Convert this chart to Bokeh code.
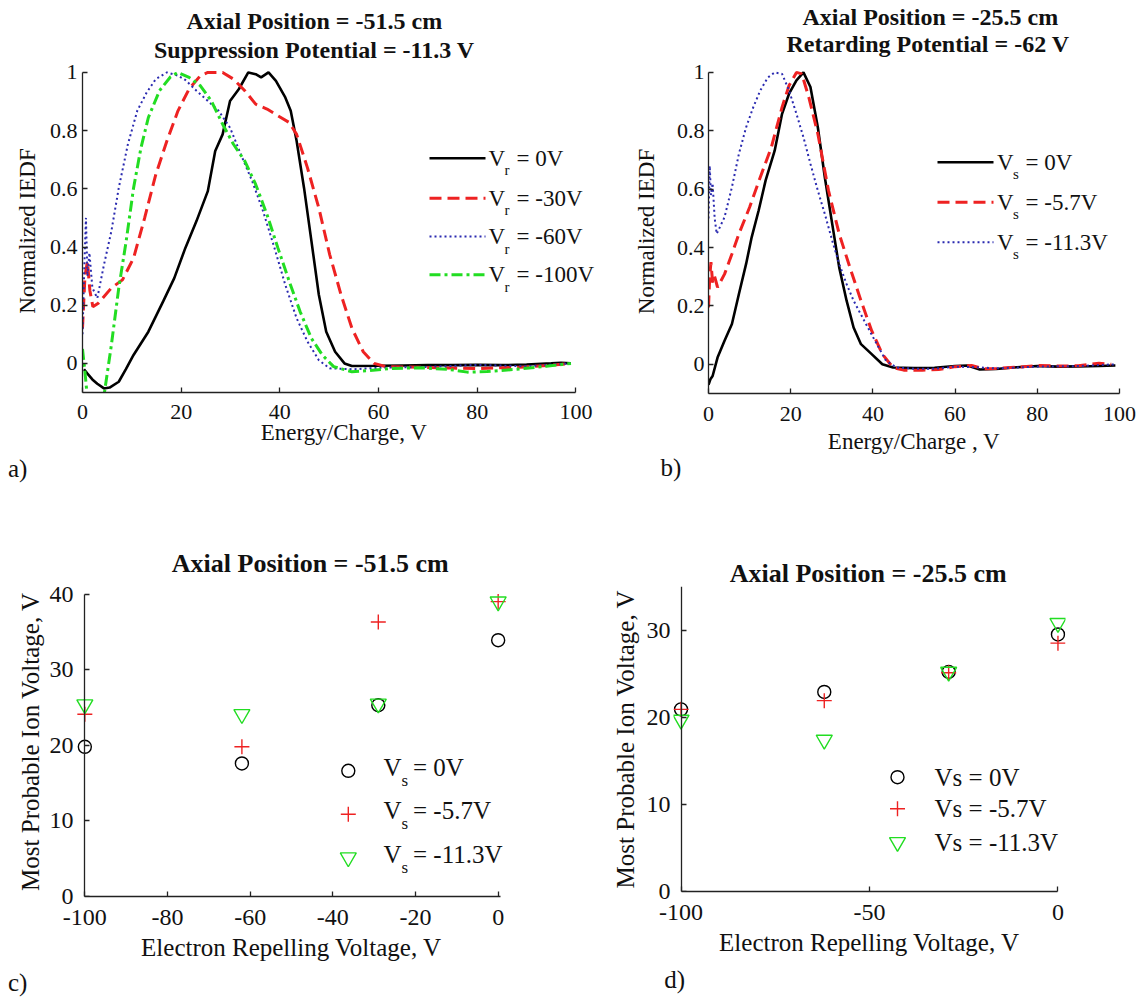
import math
from bokeh.plotting import figure
from bokeh.layouts import row, column
from bokeh.models import Label, FixedTicker, NumeralTickFormatter, Range1d, Title, LinearAxis
from bokeh.embed import file_html
from bokeh.resources import INLINE

SERIF = "Liberation Serif"

# ---------------- DATA ----------------
# Panel a: Axial -51.5 cm, suppression -11.3 V, curves for repelling voltage Vr
a_labels = ["= 0V", "= -30V", "= -60V", "= -100V"]
a_vr0_x = [0.3, 1, 2, 3, 4.35, 5.5, 7.35, 8.8, 10.35, 13.35, 16.35, 18.6, 20.85, 23.1, 25.4, 26.9,
           28.4, 29.9, 31.7, 33.6, 35.1, 36.2, 37.7, 39.2, 41.1, 42.2, 43.4, 44.9, 46.4, 47.9, 49.4,
           51.2, 53.1, 54.6, 60, 65, 70, 75, 80, 85, 90, 95, 97, 99]
a_vr0_y = [-0.02, -0.035, -0.055, -0.07, -0.086, -0.083, -0.063, -0.02, 0.029, 0.109, 0.213, 0.293,
           0.397, 0.489, 0.592, 0.73, 0.787, 0.902, 0.943, 1.0, 0.994, 0.983, 1.0, 0.971, 0.914, 0.868,
           0.764, 0.603, 0.42, 0.236, 0.109, 0.04, 0.0, -0.009, -0.008, -0.007, -0.006, -0.006, -0.005,
           -0.006, -0.004, 0.0, 0.002, 0.0]
a_vr30_x = [0, 0.5, 1.0, 1.5, 2.1, 3.2, 5.85, 8.1, 10.35, 12.6, 14.85, 17.1, 19.35, 21.6, 23.9, 25.4,
            28.4, 30.6, 32.9, 35.1, 37.4, 39.6, 41.9, 43.4, 45.6, 47.9, 50.1, 52.4, 54.6, 56.9, 59.1,
            61.4, 65, 70, 75, 80, 85, 90, 95, 99]
a_vr30_y = [0.12, 0.3, 0.35, 0.25, 0.195, 0.207, 0.259, 0.287, 0.362, 0.5, 0.649, 0.764, 0.868, 0.943,
            0.989, 1.0, 1.0, 0.977, 0.937, 0.891, 0.874, 0.851, 0.828, 0.787, 0.672, 0.534, 0.374,
            0.236, 0.121, 0.04, 0.0, -0.011, -0.012, -0.014, -0.016, -0.018, -0.015, -0.012, -0.006, 0.0]
a_vr60_x = [0, 0.4, 0.7, 1.0, 1.4, 2.0, 3.0, 4.35, 5.85, 7.35, 9.2, 11.1, 13.0, 14.85, 17.1, 19.35,
            20.85, 23.1, 25.4, 27.6, 29.9, 32.1, 34.4, 36.6, 38.9, 41.1, 43.4, 45.6, 47.9, 50.1, 55,
            60, 70, 80, 90, 99]
a_vr60_y = [0.1, 0.35, 0.5, 0.3, 0.38, 0.26, 0.224, 0.339, 0.454, 0.603, 0.753, 0.868, 0.931, 0.977,
            1.0, 0.989, 0.974, 0.937, 0.902, 0.868, 0.81, 0.718, 0.626, 0.523, 0.397, 0.27, 0.155,
            0.075, 0.011, -0.017, -0.02, -0.015, -0.012, -0.005, -0.01, 0.0]
a_vr100_x = [0, 0.5, 1.0, 1.5, 2.5, 3.5, 4.45, 5.85, 7.35, 8.85, 10.35, 11.85, 13.35, 15.6, 17.85,
             19.35, 21.6, 23.9, 26.1, 28.4, 30.6, 32.9, 35.1, 37.4, 39.6, 41.9, 44.1, 46.4, 48.6,
             50.9, 54.6, 58, 62, 68, 74, 78, 82, 88, 94, 99]
a_vr100_y = [0.05, -0.03, -0.12, -0.15, -0.15, -0.13, -0.1, 0.063, 0.259, 0.42, 0.603, 0.741, 0.845,
             0.937, 0.985, 1.0, 0.983, 0.954, 0.902, 0.822, 0.753, 0.695, 0.615, 0.511, 0.397, 0.282,
             0.178, 0.086, 0.029, -0.011, -0.029, -0.025, -0.018, -0.015, -0.02, -0.03, -0.028,
             -0.02, -0.01, 0.0]

# Panel b: Axial -25.5 cm, retarding -62 V, curves for suppression voltage Vs
b_labels = ["= 0V", "= -5.7V", "= -11.3V"]
b_vs0_x = [0, 0.5, 1, 2.2, 3.9, 5.7, 7.4, 9.15, 10.5, 12.2, 13.9, 16.1, 17.9, 19.6, 21.4, 23.1, 24.8,
           26.6, 28.3, 30.1, 31.8, 33.6, 35.3, 37.1, 39.7, 42.3, 44.9, 50, 55, 60, 63, 66, 70, 75, 80,
           85, 90, 95, 99]
b_vs0_y = [-0.07, -0.05, -0.04, 0.023, 0.081, 0.138, 0.241, 0.344, 0.435, 0.527, 0.63, 0.732, 0.858,
           0.927, 0.973, 1.0, 0.95, 0.812, 0.641, 0.481, 0.332, 0.218, 0.126, 0.069, 0.035, 0.0,
           -0.011, -0.013, -0.012, -0.006, -0.004, -0.018, -0.016, -0.01, -0.006, -0.008, -0.007,
           -0.006, -0.004]
b_vs57_x = [0, 0.3, 0.6, 1.0, 1.5, 2.2, 3.9, 5.7, 7.4, 10.0, 12.6, 15.3, 17.9, 19.6, 21.4, 22.7, 24.4,
            26.6, 29.2, 31.8, 34.4, 37.1, 39.7, 42.3, 44.9, 47.5, 52, 56, 60, 64, 67, 70, 75, 80, 85,
            90, 95, 98]
b_vs57_y = [0.195, 0.3, 0.35, 0.28, 0.3, 0.264, 0.309, 0.378, 0.447, 0.538, 0.641, 0.744, 0.881,
            0.955, 1.0, 0.995, 0.915, 0.79, 0.595, 0.447, 0.332, 0.218, 0.115, 0.035, -0.011, -0.02,
            -0.02, -0.018, -0.008, -0.004, -0.015, -0.014, -0.01, -0.004, -0.006, -0.005, 0.004, 0.0]
b_vs113_x = [0, 0.3, 0.6, 1.0, 1.5, 2.0, 3.9, 5.7, 7.4, 9.15, 10.9, 12.6, 14.4, 16.1, 17.9, 19.6,
             21.4, 23.1, 24.8, 26.6, 28.3, 30.1, 31.8, 33.6, 35.3, 37.9, 40.5, 43.2, 45.8, 50, 55,
             60, 65, 70, 80, 90, 99]
b_vs113_y = [0.5, 0.68, 0.58, 0.62, 0.5, 0.447, 0.504, 0.607, 0.721, 0.812, 0.881, 0.938, 0.982, 1.0,
             0.995, 0.938, 0.858, 0.778, 0.687, 0.595, 0.515, 0.424, 0.344, 0.275, 0.218, 0.149,
             0.081, 0.012, -0.011, -0.015, -0.015, -0.008, -0.01, -0.014, -0.008, -0.006, 0.0]

# Panels c, d: most probable ion voltage vs electron repelling voltage
rep_voltage = [-100, -62, -29, 0]
c_vs0 = [19.8, 17.6, 25.3, 33.9]
c_vs57 = [24.1, 19.8, 36.3, 39.0]
c_vs113 = [25.4, 24.1, 25.5, 39.0]
d_vs0 = [20.9, 22.9, 25.2, 29.5]
d_vs57 = [20.9, 21.9, 25.1, 28.5]
d_vs113 = [19.7, 17.4, 25.2, 30.8]
cd_labels = ["= 0V", "= -5.7V", "= -11.3V"]
d_labels = ["Vs = 0V", "Vs = -5.7V", "Vs = -11.3V"]

a_ticks_x = [0, 20, 40, 60, 80, 100]
a_ticks_y = [0, 0.2, 0.4, 0.6, 0.8, 1]
c_ticks_x = [-100, -80, -60, -40, -20, 0]
c_ticks_y = [0, 10, 20, 30, 40]
d_ticks_x = [-100, -50, 0]
d_ticks_y = [0, 10, 20, 30]

BLACK = "#000000"
RED = "#ee2222"
BLUE = "#2a2ab0"
GREEN = "#22dd22"
AXC = "#222222"
TXT = "#111111"


def style_axis(ax, tick_size):
    ax.axis_line_color = AXC
    ax.axis_line_width = 1.3
    ax.major_tick_in = 5
    ax.major_tick_out = 0
    ax.major_tick_line_color = AXC
    ax.major_tick_line_width = 1.3
    ax.minor_tick_line_color = None
    ax.major_label_text_font = SERIF
    ax.major_label_text_color = TXT
    ax.major_label_text_font_size = tick_size
    ax.axis_label_text_font = SERIF
    ax.axis_label_text_font_style = "normal"
    ax.axis_label_text_color = TXT


class Panel:
    # ox, oy: page position of the figure; left/top: frame offset inside the figure
    def __init__(self, ox, oy, left, top, fw, fh, tw, th, xr, yr, tick_size):
        self.L = ox + left
        self.T = oy + top
        self.fw, self.fh = fw, fh
        self.B = self.T + fh
        self.xr, self.yr = xr, yr
        p = figure(frame_width=fw, frame_height=fh, x_range=Range1d(*xr), y_range=Range1d(*yr),
                   output_backend="svg", toolbar_location=None,
                   min_border_left=left, min_border_top=top,
                   min_border_right=tw - left - fw, min_border_bottom=th - top - fh)
        p.outline_line_color = None
        p.grid.visible = False
        p.background_fill_color = "white"
        p.border_fill_color = "white"
        style_axis(p.xaxis[0], tick_size)
        style_axis(p.yaxis[0], tick_size)
        self.p = p

    def dx(self, px):
        return self.xr[0] + (px - self.L) / self.fw * (self.xr[1] - self.xr[0])

    def dy(self, py):
        return self.yr[0] + (self.B - py) / self.fh * (self.yr[1] - self.yr[0])

    def text(self, x, y, txt, size, align="left"):
        self.p.add_layout(Label(x=x - self.L, y=self.B - y, x_units="screen", y_units="screen",
                                text=txt, text_font=SERIF, text_font_size=f"{size}px",
                                text_align=align, text_baseline="middle", text_color=TXT))

    def title(self, txt, left_x, size, standoff, bold=True, side="above", valign="bottom"):
        self.p.add_layout(Title(text=txt, align="left", offset=left_x - self.L, standoff=standoff,
                                text_font=SERIF, text_font_size=f"{size}px",
                                text_font_style="bold" if bold else "normal",
                                text_color=TXT, vertical_align=valign), side)


ROW1_H = 508
ROW2_H = 492
COL1_W = 608
COL2_W = 535

# ---------------- PANEL A ----------------
A = Panel(0, 0, 82, 68, 523, 323, COL1_W, ROW1_H, (0, 106), (-0.1, 1.01), "22px")
pa = A.p
pa.xaxis.ticker = FixedTicker(ticks=a_ticks_x)
pa.xaxis.bounds = (0, 100)
pa.yaxis.ticker = FixedTicker(ticks=a_ticks_y)
pa.yaxis.formatter = NumeralTickFormatter(format="0.[0]")
pa.yaxis.bounds = (-0.1, 1)
pa.xaxis.axis_label = "Energy/Charge, V"
pa.yaxis.axis_label = "Normalized IEDF"
pa.xaxis.axis_label_text_font_size = "23px"
pa.yaxis.axis_label_text_font_size = "23px"
pa.xaxis.major_label_standoff = 12
pa.yaxis.major_label_standoff = 5
pa.xaxis.axis_label_standoff = -2
pa.yaxis.axis_label_standoff = 7
a_styles = [(a_vr0_x, a_vr0_y, BLACK, 2.6, "solid"),
            (a_vr30_x, a_vr30_y, RED, 3.0, "12 6"),
            (a_vr60_x, a_vr60_y, BLUE, 2.0, "2 3"),
            (a_vr100_x, a_vr100_y, GREEN, 3.0, "11 4 3 4")]
for xs, ys, c, w, d in a_styles:
    pa.line(xs, ys, line_color=c, line_width=w, line_dash=d)
A.title("Suppression Potential = -11.3 V", 153.5, 24, 13)
A.title("Axial Position = -51.5 cm", 186, 24, -10)
A.title("a)", 7.4, 25, 12, bold=False, side="below", valign="middle")
a_rows = [156.7, 196.7, 235.0, 273.3]
for (xs, ys, c, w, d), ry, lab in zip(a_styles, a_rows, a_labels):
    pa.line([A.dx(429), A.dx(485)], [A.dy(ry), A.dy(ry)], line_color=c, line_width=w, line_dash=d)
    A.text(488, ry, "V", 23)
    A.text(504, ry + 12, "r", 15)
    A.text(516, ry, lab, 23)

# ---------------- PANEL B ----------------
Bp = Panel(COL1_W, 0, 100, 69, 411, 324, COL2_W, ROW1_H, (0, 100), (-0.1, 1.01), "22px")
pb = Bp.p
pb.xaxis.ticker = FixedTicker(ticks=a_ticks_x)
pb.yaxis.ticker = FixedTicker(ticks=a_ticks_y)
pb.yaxis.formatter = NumeralTickFormatter(format="0.[0]")
pb.yaxis.bounds = (-0.1, 1)
pb.xaxis.axis_label = "Energy/Charge , V"
pb.yaxis.axis_label = "Normalized IEDF"
pb.xaxis.axis_label_text_font_size = "23px"
pb.yaxis.axis_label_text_font_size = "23px"
pb.xaxis.major_label_standoff = 13
pb.yaxis.major_label_standoff = 4
pb.xaxis.axis_label_standoff = 5
pb.yaxis.axis_label_standoff = 15
b_styles = [(b_vs0_x, b_vs0_y, BLACK, 2.6, "solid"),
            (b_vs57_x, b_vs57_y, RED, 3.0, "12 6"),
            (b_vs113_x, b_vs113_y, BLUE, 2.0, "2 3")]
for xs, ys, c, w, d in b_styles:
    pb.line(xs, ys, line_color=c, line_width=w, line_dash=d)
Bp.title("Retarding Potential = -62 V", 786, 24, 26)
Bp.title("Axial Position = -25.5 cm", 802, 24, -28)
Bp.title("b)", 660, 25, -8, bold=False, side="below", valign="middle")
b_rows = [161.7, 201.7, 241.7]
for (xs, ys, c, w, d), ry, lab in zip(b_styles, b_rows, b_labels):
    pb.line([Bp.dx(937), Bp.dx(993)], [Bp.dy(ry), Bp.dy(ry)], line_color=c, line_width=w, line_dash=d)
    Bp.text(996.5, ry, "V", 23)
    Bp.text(1012.5, ry + 11.5, "s", 15)
    Bp.text(1025, ry, lab, 23)


def marker_series(pan, xs, ys_list):
    p = pan.p
    p.scatter(xs, ys_list[0], marker="circle", size=13, fill_color=None, line_color=BLACK, line_width=1.4)
    p.scatter(xs, ys_list[1], marker="cross", size=15, line_color=RED, line_width=1.4)
    p.scatter(xs, ys_list[2], marker="inverted_triangle", size=16, fill_color=None,
              line_color=GREEN, line_width=1.4)


def legend_markers(pan, mx, rows):
    p = pan.p
    p.scatter([pan.dx(mx)], [pan.dy(rows[0])], marker="circle", size=13, fill_color=None,
              line_color=BLACK, line_width=1.4)
    p.scatter([pan.dx(mx)], [pan.dy(rows[1])], marker="cross", size=15, line_color=RED, line_width=1.4)
    p.scatter([pan.dx(mx)], [pan.dy(rows[2])], marker="inverted_triangle", size=16, fill_color=None,
              line_color=GREEN, line_width=1.4)


def split_y_axis(p, ticks, bounds, standoff, als):
    # labelled axis sits in the side panel; the drawn axis line sits at x = -100
    ya = p.yaxis[0]
    ya.ticker = FixedTicker(ticks=ticks)
    ya.formatter = NumeralTickFormatter(format="0")
    ya.axis_line_color = None
    ya.major_tick_line_color = None
    ya.major_label_standoff = standoff
    ya.axis_label = "Most Probable Ion Voltage, V"
    ya.axis_label_text_font_size = "25px"
    ya.axis_label_standoff = als
    line_axis = LinearAxis(fixed_location=-100, ticker=FixedTicker(ticks=ticks), bounds=bounds)
    style_axis(line_axis, "0px")
    line_axis.major_label_text_color = None
    line_axis.major_label_standoff = 0
    p.add_layout(line_axis, "left")


# ---------------- PANEL C ----------------
C = Panel(0, ROW1_H, 74, 76, 434, 310, COL1_W, ROW2_H, (-102.5, 2.5), (0, 41), "24px")
pc = C.p
pc.xaxis.ticker = FixedTicker(ticks=c_ticks_x)
pc.xaxis.formatter = NumeralTickFormatter(format="0")
pc.xaxis.bounds = (-100, 0.5)
pc.xaxis.axis_label = "Electron Repelling Voltage, V"
pc.xaxis.axis_label_text_font_size = "25px"
pc.xaxis.major_label_standoff = 13
pc.xaxis.axis_label_standoff = 6
split_y_axis(pc, c_ticks_y, (0, 40), 1, 3)
marker_series(C, rep_voltage, [c_vs0, c_vs57, c_vs113])
C.title("Axial Position = -51.5 cm", 171.3, 26, 17)
C.title("c)", 7.4, 25, 8, bold=False, side="below", valign="middle")
legend_markers(C, 347.8, [768.3, 811.7, 855.0])
for vy, lab in zip([765.0, 808.3, 851.7], cd_labels):
    C.text(383, vy, "V", 25)
    C.text(401, vy + 13, "s", 17)
    C.text(412.5, vy, lab, 25)

# ---------------- PANEL D ----------------
D = Panel(COL1_W, ROW1_H, 61, 78, 392, 305, COL2_W, ROW2_H, (-102, 2), (0, 35), "24px")
pd_ = D.p
pd_.xaxis.ticker = FixedTicker(ticks=d_ticks_x)
pd_.xaxis.formatter = NumeralTickFormatter(format="0")
pd_.xaxis.bounds = (-100, 0)
pd_.xaxis.axis_label = "Electron Repelling Voltage, V"
pd_.xaxis.axis_label_text_font_size = "25px"
pd_.xaxis.major_label_standoff = 13
pd_.xaxis.axis_label_standoff = 6
split_y_axis(pd_, d_ticks_y, (0, 35), 3, 5)
marker_series(D, rep_voltage, [d_vs0, d_vs57, d_vs113])
D.title("Axial Position = -25.5 cm", 725.2, 26, -3)
D.title("d)", 659.7, 25, 13, bold=False, side="below", valign="middle")
legend_markers(D, 893, [776.7, 808.3, 841.7])
for vy, lab in zip([776.7, 808.3, 841.7], d_labels):
    D.text(930, vy, lab, 25)

layout = column(row(pa, pb), row(pc, pd_))
open("out.html", "w").write(file_html(layout, INLINE))
